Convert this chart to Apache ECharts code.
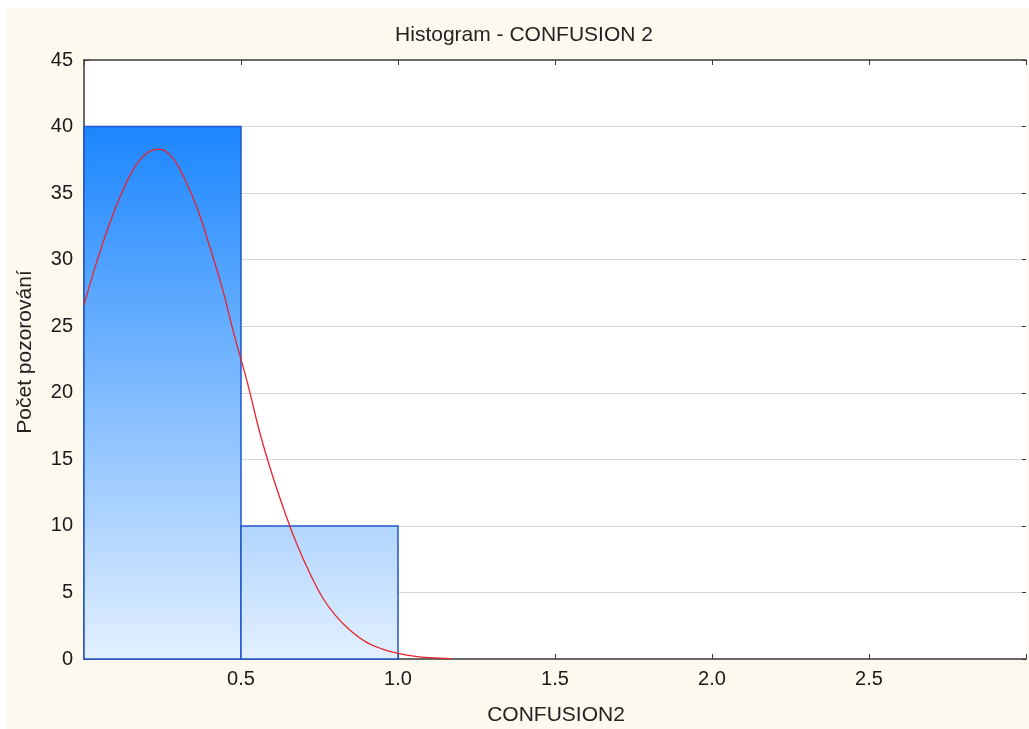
<!DOCTYPE html>
<html>
<head>
<meta charset="utf-8">
<script src="https://cdn.jsdelivr.net/npm/echarts@6/dist/echarts.min.js"></script>
<style>
  html, body { margin: 0; padding: 0; background: #fff; }
  #chart { width: 1029px; height: 729px; }
</style>
</head>
<body>
<div id="chart"></div>
<script>
  // histogram bins: [from, to, count]
  var binStarts = [0, 0.5]
  var binEnds = [0.5, 1.0]
  var binCounts = [40, 10]

  // fitted normal curve
  var curveX = [0, 0.04, 0.08, 0.12, 0.16, 0.20, 0.24, 0.28, 0.32, 0.36, 0.40, 0.44, 0.48,
    0.52, 0.56, 0.60, 0.64, 0.68, 0.72, 0.76, 0.80, 0.85, 0.90, 0.95, 1.00, 1.05, 1.10, 1.17]
  var curveY = [26.6, 29.8, 32.6, 35.0, 36.9, 38.0, 38.3, 37.7, 36.1, 33.9, 31.0, 27.9, 24.2,
    20.8, 17.0, 13.8, 11.0, 8.5, 6.4, 4.6, 3.3, 2.1, 1.25, 0.75, 0.43, 0.22, 0.1, 0.03]

  var xTicks = [0.5, 1.0, 1.5, 2.0, 2.5]

  var font = '"Liberation Sans", Arial, sans-serif'
  var maxCount = Math.max.apply(null, binCounts)

  var bins = binStarts.map(function (s, i) { return [s, binEnds[i], binCounts[i]] })
  var curve = curveX.map(function (x, i) { return [x, curveY[i]] })

  var axisColor = '#3a3a3a'

  var chart = echarts.init(document.getElementById('chart'))

  var option = {
    backgroundColor: '#fff',
    animation: false,
    textStyle: { fontFamily: font },
    graphic: [
      { type: 'rect', z: -10, shape: { x: 6, y: 8, width: 1023, height: 721 }, style: { fill: '#fef9ef' } },
      { type: 'text', z: 10, x: 524, y: 35, style: { text: 'Histogram - CONFUSION 2', font: '21px ' + font, fill: '#222', align: 'center', verticalAlign: 'middle' } },
      { type: 'text', z: 10, x: 25, y: 352, rotation: Math.PI / 2, style: { text: 'Počet pozorování', font: '21px ' + font, fill: '#222', align: 'center', verticalAlign: 'middle' } },
      { type: 'text', z: 10, x: 556, y: 715, style: { text: 'CONFUSION2', font: '21px ' + font, fill: '#222', align: 'center', verticalAlign: 'middle' } }
    ],
    grid: {
      left: 84, right: 1, top: 60, bottom: 70,
      show: true, backgroundColor: '#fff', borderWidth: 0
    },
    xAxis: [{
      type: 'value', position: 'bottom', min: 0, max: 3, interval: 0.5,
      axisLine: { show: true, onZero: false, lineStyle: { color: axisColor, width: 1.5 } },
      axisTick: { show: true, inside: true, length: 5, lineStyle: { color: axisColor } },
      axisLabel: {
        fontSize: 20, color: '#1a1a1a', margin: 10, fontFamily: font,
        formatter: function (v) { return xTicks.indexOf(v) >= 0 ? v.toFixed(1) : '' }
      },
      splitLine: { show: false }
    }, {
      type: 'value', position: 'top', min: 0, max: 3, interval: 0.5,
      axisLine: { show: true, onZero: false, lineStyle: { color: axisColor, width: 1.5 } },
      axisTick: { show: true, inside: true, length: 5, lineStyle: { color: axisColor } },
      axisLabel: { show: false },
      splitLine: { show: false }
    }],
    yAxis: [{
      type: 'value', position: 'left', min: 0, max: 45, interval: 5,
      axisLine: { show: true, onZero: false, lineStyle: { color: axisColor, width: 1.5 } },
      axisTick: { show: true, inside: true, length: 5, lineStyle: { color: axisColor } },
      axisLabel: { fontSize: 20, color: '#1a1a1a', margin: 11, fontFamily: font },
      splitLine: { show: true, showMinLine: false, showMaxLine: false, lineStyle: { color: '#d9d9d9', width: 1 } }
    }, {
      type: 'value', position: 'right', min: 0, max: 45, interval: 5,
      axisLine: { show: false, onZero: false },
      axisTick: { show: true, inside: true, length: 4, lineStyle: { color: axisColor } },
      axisLabel: { show: false },
      splitLine: { show: false }
    }],
    series: [{
      type: 'custom',
      xAxisIndex: 0,
      yAxisIndex: 0,
      encode: { x: [0, 1], y: 2 },
      data: bins,
      renderItem: function (params, api) {
        var a = api.coord([api.value(0), api.value(2)])
        var b = api.coord([api.value(1), 0])
        var top = api.coord([0, maxCount])[1]
        var fill = new echarts.graphic.LinearGradient(0, top, 0, b[1], [
          { offset: 0, color: '#1b86ff' },
          { offset: 1, color: '#e3f0ff' }
        ], true)
        return {
          type: 'rect',
          shape: { x: a[0], y: a[1], width: b[0] - a[0], height: b[1] - a[1] },
          style: { fill: fill, stroke: '#2057cc', lineWidth: 1.5 }
        }
      }
    }, {
      type: 'line',
      xAxisIndex: 0,
      yAxisIndex: 0,
      data: curve,
      smooth: 0.4,
      showSymbol: false,
      z: 5,
      lineStyle: { color: '#e8232c', width: 1.3 }
    }]
  }

  chart.setOption(option)
</script>
</body>
</html>
